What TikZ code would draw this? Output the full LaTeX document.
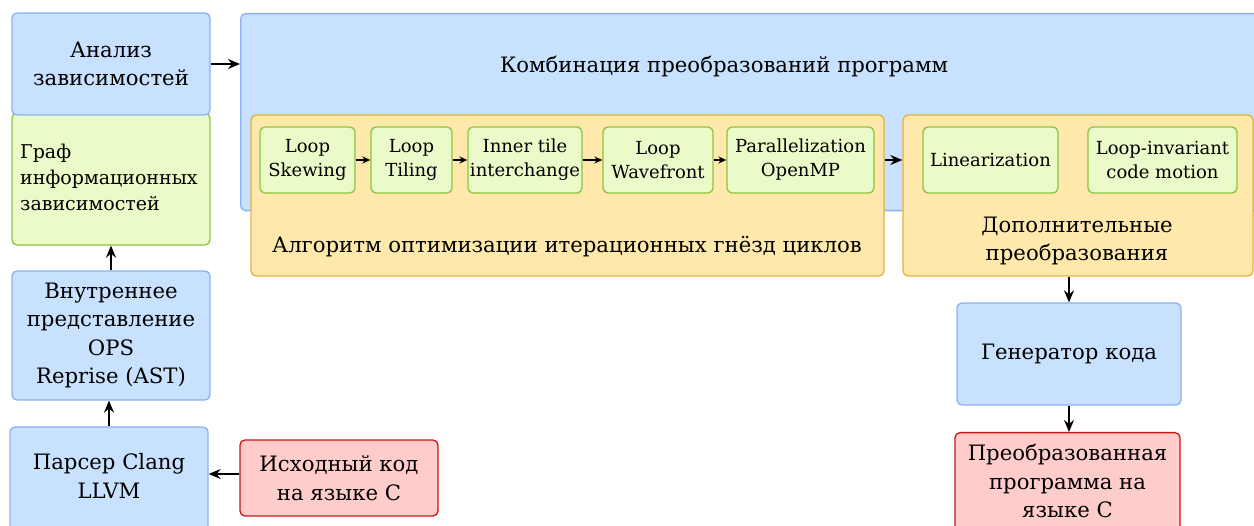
\documentclass[tikz,border=0pt]{standalone}
\usepackage{fontspec}
\setmainfont{DejaVu Serif}
\usetikzlibrary{arrows.meta}
\definecolor{bfill}{HTML}{C8E1FE}
\definecolor{bdraw}{HTML}{8CB0F5}
\definecolor{gfill}{HTML}{EAFAC9}
\definecolor{gdraw}{HTML}{8DC43E}
\definecolor{ofill}{HTML}{FFE8AB}
\definecolor{odraw}{HTML}{E3B23C}
\definecolor{rfill}{HTML}{FFCCCC}
\definecolor{rdraw}{HTML}{CC1414}
\tikzset{
  boxbase/.style={rectangle, rounded corners=5pt, line width=1.3pt, inner sep=0pt, align=center},
  bl/.style={boxbase, fill=bfill, draw=bdraw},
  gr/.style={boxbase, fill=gfill, draw=gdraw},
  og/.style={boxbase, fill=ofill, draw=odraw},
  rd/.style={boxbase, fill=rfill, draw=rdraw},
  bigtxt/.style={font=\fontsize{21.2}{28.5}\selectfont},
  smalltxt/.style={font=\fontsize{18}{24}\selectfont},
  grtxt/.style={font=\fontsize{19}{26}\selectfont},
  txt/.style={inner sep=0pt, align=center},
  arr/.style={-{Stealth[length=12pt,width=10pt]}, line width=1.5pt, black},
  sarr/.style={-{Stealth[length=8pt,width=7pt]}, line width=1.3pt, black},
}
\begin{document}
\begin{tikzpicture}[x=1pt,y=-1pt]
\useasboundingbox (0,0) rectangle (1254,526);
\clip (0,0) rectangle (1254,526);
% left column
\node[gr, minimum width=198pt, minimum height=132pt] (graph) at (111,179) {};
\node[txt, grtxt, align=left, anchor=west] (graphtxt) at (20,177) {Граф\\информационных\\зависимостей};
\node[bl, bigtxt, minimum width=198pt, minimum height=102pt] (an) at (111,64) {Анализ\\зависимостей};
\node[bl, bigtxt, minimum width=198pt, minimum height=129pt] (vn) at (111,335.5) {Внутреннее\\представление\\OPS\\Reprise (AST)};
\node[bl, bigtxt, minimum width=198pt, minimum height=110pt] (pc) at (109,482) {};
\node[txt, bigtxt] (pctxt) at (109,476) {Парсер Clang\\LLVM};
\node[rd, bigtxt, minimum width=198pt, minimum height=76pt] (src) at (339,478) {Исходный код\\на языке C};
% big blue
\node[bl, minimum width=1040pt, minimum height=197pt, anchor=north west] (kb) at (240,13) {};
\node[txt, bigtxt] (kbt) at (724,66) {Комбинация преобразований программ};
% orange 1
\node[og, minimum width=633pt, minimum height=161pt] (o1) at (567.5,195.5) {};
\node[txt, bigtxt] (o1t) at (567,247) {Алгоритм оптимизации итерационных гнёзд циклов};
\node[gr, smalltxt, minimum width=95pt, minimum height=66pt] (s1) at (307.5,160) {Loop\\Skewing};
\node[gr, smalltxt, minimum width=81pt, minimum height=66pt] (s2) at (411.5,160) {Loop\\Tiling};
\node[gr, smalltxt, minimum width=114pt, minimum height=66pt] (s3) at (525,160) {Inner tile\\interchange};
\node[gr, smalltxt, minimum width=110pt, minimum height=66pt] (s4) at (658,160) {Loop\\Wavefront};
\node[gr, smalltxt, minimum width=147pt, minimum height=66pt] (s5) at (800.5,160) {Parallelization\\OpenMP};
% orange 2
\node[og, minimum width=350pt, minimum height=161pt] (o2) at (1078,195.5) {};
\node[txt, bigtxt] (o2t) at (1077,241) {Дополнительные\\преобразования};
\node[gr, smalltxt, minimum width=135pt, minimum height=66pt] (l1) at (990.5,160) {Linearization};
\node[gr, smalltxt, minimum width=149pt, minimum height=66pt] (l2) at (1162.5,160) {Loop-invariant\\code motion};
% right column
\node[bl, bigtxt, minimum width=224pt, minimum height=102pt] (gen) at (1069,354) {Генератор кода};
\node[rd, minimum width=225pt, minimum height=110pt, anchor=north] (res) at (1067.5,432) {};
\node[txt, bigtxt] (restxt) at (1067.5,481) {Преобразованная\\программа на\\языке C};
% arrows
\draw[arr] (an.east) -- (an.east -| kb.west);
\draw[arr] (vn.north) -- (vn.north |- graph.south);
\draw[arr] (pc.north) -- (pc.north |- vn.south);
\draw[arr] ([yshift=4pt]src.west) -- ([yshift=4pt]src.west -| pc.east);
\draw[sarr] (s1) -- (s2);
\draw[sarr] (s2) -- (s3);
\draw[sarr] (s3) -- (s4);
\draw[sarr] (s4) -- (s5);
\draw[arr] (s5.east -| o1.east) -- (s5.east -| o2.west);
\draw[arr] (gen.north |- o2.south) -- (gen.north);
\draw[arr] (gen.south) -- (gen.south |- res.north);
\end{tikzpicture}
\end{document}
